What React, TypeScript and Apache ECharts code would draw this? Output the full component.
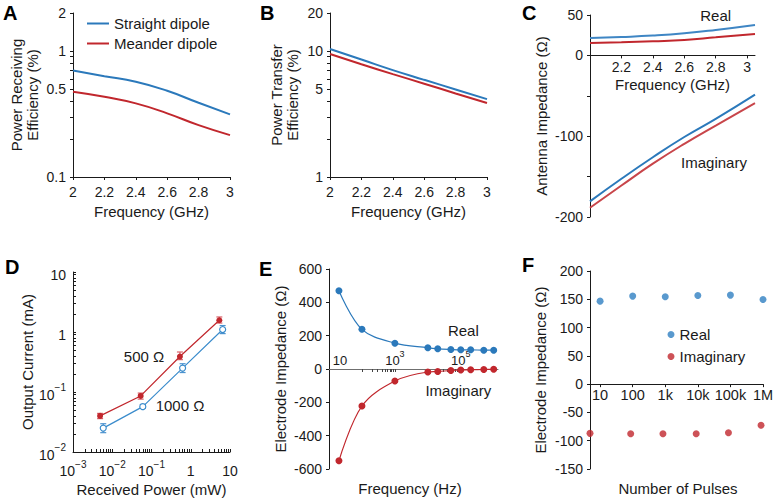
import React, { useEffect, useRef } from 'react';
import * as echarts from 'echarts';

// ---------- data ----------
const freqGHz = [2.0, 2.2, 2.4, 2.6, 2.8, 3.0];
const recvStraight = [0.7, 0.63, 0.57, 0.483, 0.388, 0.314];
const recvMeander = [0.475, 0.433, 0.384, 0.32, 0.258, 0.215];
const transferStraight = [10.35, 8.55, 7.05, 5.9, 4.95, 4.15];
const transferMeander = [9.45, 7.85, 6.55, 5.5, 4.6, 3.86];

const freqC = [2.0, 2.2, 2.4, 2.6, 2.8, 3.05];
const realStraight = [21.6, 22.8, 24.5, 27.3, 31.5, 37.7];
const realMeander = [15.5, 16.3, 17.5, 19.1, 22.4, 26.6];
const imagStraight = [-180.7, -152.7, -126, -101, -78.5, -48.5];
const imagMeander = [-188.5, -161, -134, -109.4, -86.8, -59.2];

const power500 = [0.0049, 0.053, 0.53, 5.35];
const current500 = [0.04, 0.086, 0.39, 1.57];
const current500Low = [0.036, 0.076, 0.346, 1.41];
const current500High = [0.044, 0.096, 0.464, 1.78];
const power1000 = [0.0059, 0.06, 0.62, 6.5];
const current1000 = [0.025, 0.057, 0.25, 1.1];
const current1000Low = [0.021, 0.0535, 0.211, 0.94];
const current1000High = [0.0296, 0.062, 0.296, 1.28];

const freqHz = [20, 100, 1000, 1e4, 2e4, 5e4, 1e5, 2e5, 5e5, 1e6];
const electrodeReal = [470, 238, 155, 127, 121, 117, 115, 115, 113, 113];
const electrodeImag = [-551, -222, -72, -18, -15, -9, -6, -4, -3, -2];

const pulsesReal = [10, 100, 1000, 1e4, 1e5, 1e6];
const pulsesImag = [4.9, 87, 850, 8900, 87000, 870000];
const impedanceReal = [146.7, 155.6, 154.4, 156.8, 157.4, 149.7];
const impedanceImag = [-87, -87.6, -87.6, -87.6, -85.8, -72.8];

// tick values
const ticksALabels = [0.1, 0.5, 1, 2];
const ticksATicks = [0.1, 0.2, 0.3, 0.4, 0.5, 0.6, 0.7, 0.8, 0.9, 1, 2];
const ticksBLabels = [1, 5, 10, 20];
const ticksBTicks = [1, 2, 3, 4, 5, 6, 7, 8, 9, 10, 20];
const ticksCxLabels = [2.2, 2.4, 2.6, 2.8, 3.0];
const ticksCyLabels = [50, 0, -100, -200];
const ticksCyTicks = [50, 0, -50, -100, -150, -200];
const decadesD = [0.001, 0.01, 0.1, 1, 10];
const ticksEx = [100, 200, 300, 400, 500, 600, 700, 800, 900, 1000, 1e4, 2e4, 3e4, 4e4, 5e4, 6e4, 7e4, 8e4, 9e4, 1e5];
const labelsEx = [10, 1000, 1e5];
const ticksF = [10, 100, 1000, 1e4, 1e5, 1e6];
const labelsF = ['10', '100', '1k', '10k', '100k', '1M'];

// ---------- styles ----------
const FONT = '"Liberation Sans", Arial, Helvetica, sans-serif';
const INK = '#1a1a1a';
const BLUE = '#2b79bb';
const RED = '#c1272d';

const minorLog = (lo: number, hi: number) => {
  const out: number[] = [];
  for (let d = lo; d < hi * 0.999; d *= 10) {
    for (let k = 1; k < 10; k++) out.push(+(d * k).toPrecision(3));
  }
  out.push(hi);
  return out;
};

const labelStyle = { color: INK, fontSize: 14, fontFamily: FONT };
const nameStyle = { color: INK, fontSize: 15, fontFamily: FONT, lineHeight: 16 };
const axLine = (color = INK) => ({ show: true, onZero: false, lineStyle: { color, width: 1 } });
const tick = (extra: any = {}) => ({ show: true, length: 3, lineStyle: { color: INK, width: 1 }, ...extra });
// moves a bottom x axis up to the y = 0 line of its grid
const zeroOffset = (gridH: number, min: number, max: number) => (-gridH * (0 - min)) / (max - min);

const supRich = {
  b: { fontSize: 14, color: INK, fontFamily: FONT, padding: [5, 0, 0, 0], verticalAlign: 'bottom' },
  s: { fontSize: 10, color: INK, fontFamily: FONT, verticalAlign: 'top' },
};
const supFmt = (v: number) => {
  const e = Math.round(Math.log10(v));
  if (e === 0) return '{b|1}';
  if (e === 1) return '{b|10}';
  return `{b|10}{s|${e < 0 ? '\u2212' + -e : e}}`;
};

const text = (t: string, x: number, y: number, extra: any = {}) => ({
  type: 'text',
  x,
  y,
  silent: true,
  style: {
    text: t,
    fill: INK,
    font: `15px ${FONT}`,
    textAlign: 'center',
    textVerticalAlign: 'middle',
    ...extra,
  },
});
const letter = (t: string, x: number, y: number) =>
  text(t, x, y, { font: `bold 20px ${FONT}`, textAlign: 'left', fill: '#000' });

const pairs = (xs: number[], ys: number[]) => xs.map((x, i) => [x, ys[i]]);
const bars = (xs: number[], lo: number[], hi: number[]) => xs.map((x, i) => [x, lo[i], hi[i]]);

const errorBar = (color: string) => (params: any, api: any) => {
  const x = api.value(0);
  const p1 = api.coord([x, api.value(1)]);
  const p2 = api.coord([x, api.value(2)]);
  const w = 3;
  const st = { stroke: color, lineWidth: 1.2 };
  return {
    type: 'group',
    children: [
      { type: 'line', shape: { x1: p1[0], y1: p1[1], x2: p2[0], y2: p2[1] }, style: st },
      { type: 'line', shape: { x1: p1[0] - w, y1: p1[1], x2: p1[0] + w, y2: p1[1] }, style: st },
      { type: 'line', shape: { x1: p2[0] - w, y1: p2[1], x2: p2[0] + w, y2: p2[1] }, style: st },
    ],
  };
};

const G = [
  { left: 73, top: 13, width: 157, height: 164 },
  { left: 330, top: 13, width: 157, height: 164 },
  { left: 590, top: 15, width: 165, height: 202 },
  { left: 73, top: 272, width: 157, height: 180 },
  { left: 329, top: 269, width: 169, height: 200 },
  { left: 590, top: 271, width: 173, height: 198 },
];
const grids = G.map((g) => ({ ...g, outerBoundsMode: 'none', containLabel: false, show: false }));

const option: any = {
  animation: false,
  backgroundColor: '#fff',
  textStyle: { fontFamily: FONT, color: INK },
  grid: grids,
  legend: [
    {
      data: ['Straight dipole', 'Meander dipole'],
      orient: 'vertical',
      left: 82,
      top: 11,
      icon: 'rect',
      itemWidth: 22,
      itemHeight: 2,
      itemGap: 5,
      textStyle: { fontSize: 15, color: INK, fontFamily: FONT },
      selectedMode: false,
    },
    {
      data: ['Real', 'Imaginary'],
      orient: 'vertical',
      left: 662.5,
      top: 322,
      icon: 'circle',
      itemWidth: 7,
      itemHeight: 7,
      itemGap: 7,
      textStyle: { fontSize: 15, color: INK, fontFamily: FONT },
      selectedMode: false,
    },
  ],
  xAxis: [
    {
      gridIndex: 0, type: 'value', min: 2, max: 3, interval: 0.2,
      splitLine: { show: false }, axisLine: axLine(), axisTick: tick(),
      axisLabel: { ...labelStyle, margin: 8 },
      name: 'Frequency (GHz)', nameLocation: 'middle', nameGap: 26, nameTextStyle: nameStyle,
    },
    {
      gridIndex: 1, type: 'value', min: 2, max: 3, interval: 0.2,
      splitLine: { show: false }, axisLine: axLine(), axisTick: tick(),
      axisLabel: { ...labelStyle, margin: 8 },
      name: 'Frequency (GHz)', nameLocation: 'middle', nameGap: 26, nameTextStyle: nameStyle,
    },
    {
      gridIndex: 2, type: 'value', min: 2, max: 3.05,
      offset: zeroOffset(G[2].height, -200, 50),
      splitLine: { show: false }, axisLine: axLine(), axisTick: tick({ customValues: ticksCxLabels }),
      axisLabel: { ...labelStyle, margin: 5, customValues: ticksCxLabels },
      name: 'Frequency (GHz)', nameLocation: 'middle', nameGap: 21, nameTextStyle: nameStyle,
    },
    {
      gridIndex: 3, type: 'log', logBase: 10, min: 0.001, max: 10,
      splitLine: { show: false }, axisLine: axLine(),
      axisTick: tick({ inside: true, customValues: minorLog(0.001, 10) }),
      axisLabel: { ...labelStyle, margin: 7, customValues: decadesD, formatter: supFmt, rich: supRich },
      name: 'Received Power (mW)', nameLocation: 'middle', nameGap: 29, nameTextStyle: nameStyle,
    },
    {
      gridIndex: 4, type: 'log', logBase: 10, min: 10, max: 1.35e6,
      offset: zeroOffset(G[4].height, -600, 600),
      splitLine: { show: false }, axisLine: axLine('#6f6f6f'),
      axisTick: tick({ customValues: ticksEx, lineStyle: { color: '#444', width: 1 } }),
      axisLabel: {
        ...labelStyle, fontSize: 13, inside: true, margin: 2, customValues: labelsEx,
        formatter: (v: number) => {
          const e = Math.round(Math.log10(v));
          return e === 1 ? '{p|10}' : `{b|10}{s|${e}}`;
        },
        rich: {
          p: { fontSize: 13, color: INK, fontFamily: FONT, padding: [5, 0, 0, 22], verticalAlign: 'bottom' },
          b: { fontSize: 13, color: INK, fontFamily: FONT, padding: [5, 0, 0, 0], verticalAlign: 'bottom' },
          s: { fontSize: 9, color: INK, fontFamily: FONT, verticalAlign: 'top' },
        },
      },
    },
    {
      gridIndex: 5, type: 'log', logBase: 10, min: 4.9, max: 1e6,
      offset: zeroOffset(G[5].height, -150, 200),
      splitLine: { show: false }, axisLine: axLine(),
      axisTick: tick({ customValues: ticksF }),
      axisLabel: {
        ...labelStyle, fontSize: 14.5, margin: 3, customValues: ticksF,
        formatter: (v: number) => labelsF[ticksF.findIndex((t) => Math.abs(t - v) / t < 1e-6)] ?? '',
      },
    },
  ],
  yAxis: [
    {
      gridIndex: 0, type: 'log', logBase: 10, min: 0.1, max: 2,
      splitLine: { show: false }, axisLine: axLine(), axisTick: tick({ customValues: ticksATicks }),
      axisLabel: { ...labelStyle, margin: 7, customValues: ticksALabels, formatter: (v: number) => String(+v.toPrecision(3)) },
      name: 'Power Receiving\nEfficiency (%)', nameLocation: 'middle', nameGap: 33, nameTextStyle: nameStyle,
    },
    {
      gridIndex: 1, type: 'log', logBase: 10, min: 1, max: 20,
      splitLine: { show: false }, axisLine: axLine(), axisTick: tick({ customValues: ticksBTicks }),
      axisLabel: { ...labelStyle, margin: 7, customValues: ticksBLabels, formatter: (v: number) => String(+v.toPrecision(3)) },
      name: 'Power Transfer\nEfficiency (%)', nameLocation: 'middle', nameGap: 30, nameTextStyle: nameStyle,
    },
    {
      gridIndex: 2, type: 'value', min: -200, max: 50,
      splitLine: { show: false }, axisLine: axLine(), axisTick: tick({ customValues: ticksCyTicks }),
      axisLabel: { ...labelStyle, margin: 7, customValues: ticksCyLabels },
      name: 'Antenna Impedance (\u03a9)', nameLocation: 'middle', nameGap: 41, nameTextStyle: nameStyle,
    },
    {
      gridIndex: 3, type: 'log', logBase: 10, min: 0.01, max: 10,
      splitLine: { show: false }, axisLine: axLine(),
      axisTick: tick({ inside: true, customValues: minorLog(0.01, 10) }),
      axisLabel: { ...labelStyle, margin: 7, customValues: decadesD.slice(1), formatter: supFmt, rich: supRich },
      name: 'Output Current (mA)', nameLocation: 'middle', nameGap: 37, nameTextStyle: nameStyle,
    },
    {
      gridIndex: 4, type: 'value', min: -600, max: 600, interval: 200,
      splitLine: { show: false }, axisLine: axLine(), axisTick: tick(),
      axisLabel: { ...labelStyle, margin: 7 },
      name: 'Electrode Impedance (\u03a9)', nameLocation: 'middle', nameGap: 41, nameTextStyle: nameStyle,
    },
    {
      gridIndex: 5, type: 'value', min: -150, max: 200, interval: 50,
      splitLine: { show: false }, axisLine: axLine(), axisTick: tick(),
      axisLabel: { ...labelStyle, margin: 7 },
      name: 'Electrode Impedance (\u03a9)', nameLocation: 'middle', nameGap: 42, nameTextStyle: nameStyle,
    },
  ],
  series: [
    // A
    { name: 'Straight dipole', type: 'line', xAxisIndex: 0, yAxisIndex: 0, smooth: true, showSymbol: false,
      data: pairs(freqGHz, recvStraight), color: BLUE, lineStyle: { width: 2, color: BLUE } },
    { name: 'Meander dipole', type: 'line', xAxisIndex: 0, yAxisIndex: 0, smooth: true, showSymbol: false,
      data: pairs(freqGHz, recvMeander), color: RED, lineStyle: { width: 2, color: RED } },
    // B
    { name: 'Straight dipole (transfer)', type: 'line', xAxisIndex: 1, yAxisIndex: 1, smooth: true, showSymbol: false,
      data: pairs(freqGHz, transferStraight), color: BLUE, lineStyle: { width: 2, color: BLUE } },
    { name: 'Meander dipole (transfer)', type: 'line', xAxisIndex: 1, yAxisIndex: 1, smooth: true, showSymbol: false,
      data: pairs(freqGHz, transferMeander), color: RED, lineStyle: { width: 2, color: RED } },
    // C
    { name: 'Straight real', type: 'line', xAxisIndex: 2, yAxisIndex: 2, smooth: true, showSymbol: false,
      data: pairs(freqC, realStraight), color: BLUE, lineStyle: { width: 2, color: '#3f86c4' } },
    { name: 'Meander real', type: 'line', xAxisIndex: 2, yAxisIndex: 2, smooth: true, showSymbol: false,
      data: pairs(freqC, realMeander), color: RED, lineStyle: { width: 2, color: RED } },
    { name: 'Straight imaginary', type: 'line', xAxisIndex: 2, yAxisIndex: 2, smooth: true, showSymbol: false,
      data: pairs(freqC, imagStraight), color: BLUE, lineStyle: { width: 2, color: BLUE } },
    { name: 'Meander imaginary', type: 'line', xAxisIndex: 2, yAxisIndex: 2, smooth: true, showSymbol: false,
      data: pairs(freqC, imagMeander), color: RED, lineStyle: { width: 2, color: '#c8454a' } },
    // D
    { name: '500 \u03a9 err', type: 'custom', xAxisIndex: 3, yAxisIndex: 3, renderItem: errorBar('#d9636a'),
      encode: { x: 0, y: [1, 2] }, data: bars(power500, current500Low, current500High), z: 1 },
    { name: '1000 \u03a9 err', type: 'custom', xAxisIndex: 3, yAxisIndex: 3, renderItem: errorBar('#4d93cf'),
      encode: { x: 0, y: [1, 2] }, data: bars(power1000, current1000Low, current1000High), z: 1 },
    { name: '500 \u03a9', type: 'line', xAxisIndex: 3, yAxisIndex: 3, symbol: 'circle', symbolSize: 6,
      data: pairs(power500, current500), color: RED, lineStyle: { width: 1.2, color: RED },
      itemStyle: { color: RED }, z: 3 },
    { name: '1000 \u03a9', type: 'line', xAxisIndex: 3, yAxisIndex: 3, symbol: 'circle', symbolSize: 6,
      data: pairs(power1000, current1000), color: BLUE, lineStyle: { width: 1.2, color: '#3b8ccc' },
      itemStyle: { color: '#fff', borderColor: '#3b8ccc', borderWidth: 1.2 }, z: 3 },
    // E
    { name: 'Electrode real', type: 'line', xAxisIndex: 4, yAxisIndex: 4, smooth: 0.35, symbol: 'circle', symbolSize: 7,
      data: pairs(freqHz, electrodeReal), color: BLUE, lineStyle: { width: 1.2, color: BLUE }, itemStyle: { color: BLUE } },
    { name: 'Electrode imaginary', type: 'line', xAxisIndex: 4, yAxisIndex: 4, smooth: 0.35, symbol: 'circle', symbolSize: 7,
      data: pairs(freqHz, electrodeImag), color: RED, lineStyle: { width: 1.2, color: RED }, itemStyle: { color: RED } },
    // F
    { name: 'Real', type: 'scatter', xAxisIndex: 5, yAxisIndex: 5, symbolSize: 7,
      data: pairs(pulsesReal, impedanceReal), itemStyle: { color: '#2f80c2' } },
    { name: 'Imaginary', type: 'scatter', xAxisIndex: 5, yAxisIndex: 5, symbolSize: 7,
      data: pairs(pulsesImag, impedanceImag), itemStyle: { color: RED } },
  ],
  graphic: [
    letter('A', 3, 12.5),
    letter('B', 260, 12.5),
    letter('C', 522, 12.5),
    letter('D', 5, 266.5),
    letter('E', 259, 268.5),
    letter('F', 522, 265),
    text('Real', 715.7, 15),
    text('Imaginary', 714, 162),
    text('500 \u03a9', 144, 356),
    text('1000 \u03a9', 180, 405),
    text('Real', 463.3, 330),
    text('Imaginary', 458.3, 390),
    text('Frequency (Hz)', 410, 488),
    text('Number of Pulses', 678, 488),
  ],
};

export default function App() {
  const ref = useRef<HTMLDivElement>(null);
  useEffect(() => {
    const chart = echarts.init(ref.current!, null, { renderer: 'svg', width: 777, height: 499 });
    chart.setOption(option);
    return () => chart.dispose();
  }, []);
  return (
    <div
      ref={ref}
      style={{ position: 'absolute', left: 0, top: 0, width: 777, height: 499, background: '#fff' }}
    />
  );
}
